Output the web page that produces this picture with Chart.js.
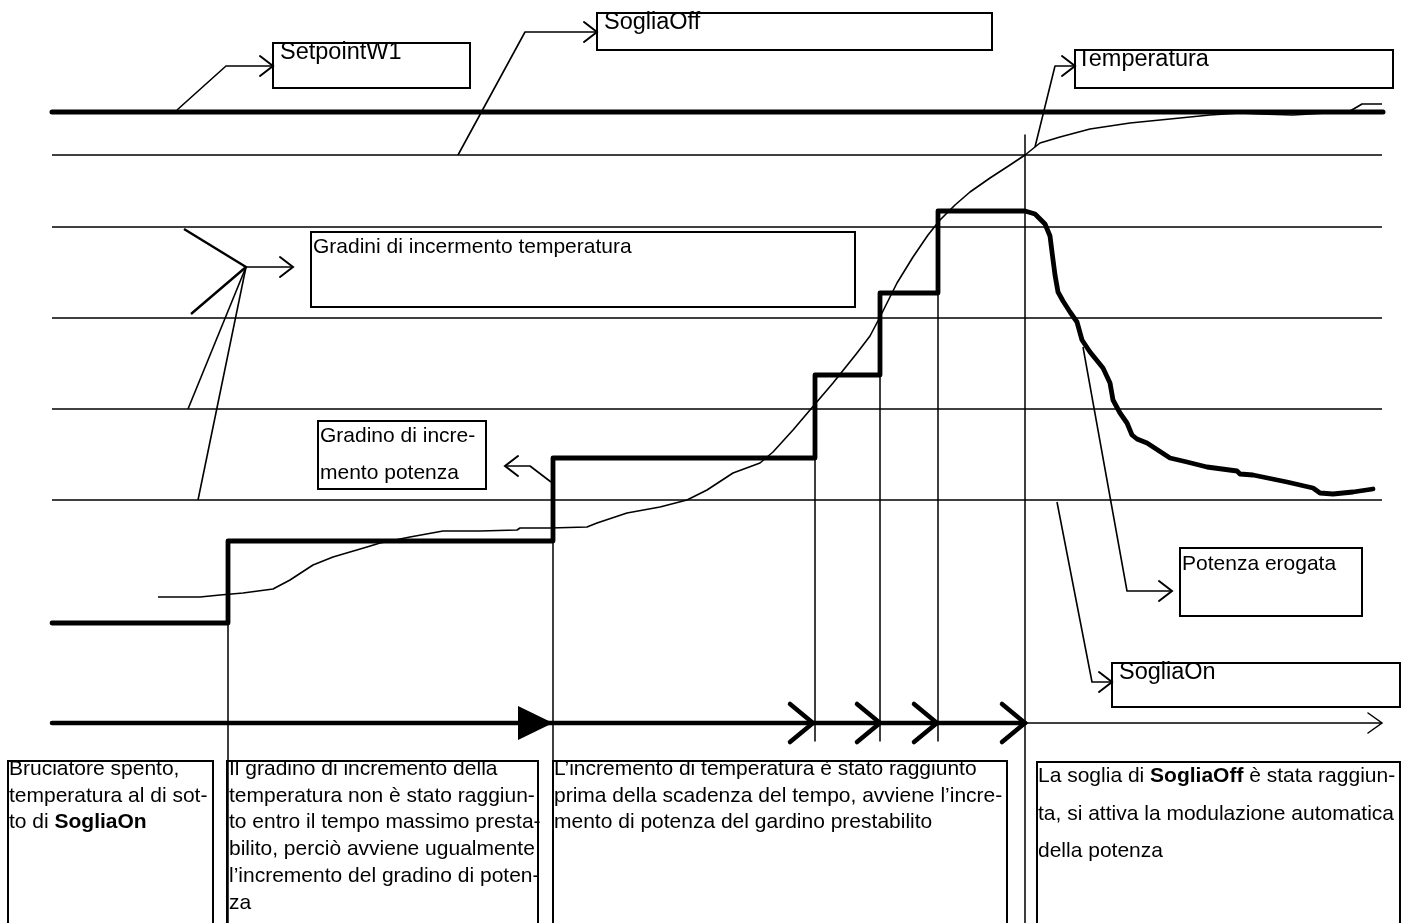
<!DOCTYPE html>
<html>
<head>
<meta charset="utf-8">
<script src="https://cdn.jsdelivr.net/npm/chart.js@4/dist/chart.umd.min.js"></script>
<style>
  body { margin: 0; background: #fff; }
  canvas { display: block; }
</style>
</head>
<body>
<canvas id="diagram" width="1414" height="923"></canvas>
<script>
'use strict';

// ***** DATA *****

let setpointLevel = 112;
let thresholdLevels = [155, 227, 318, 409, 500];
let levelStart = 52;
let levelEnd = 1383;

let powerCurve = [
  [52, 623], [228, 623], [228, 541], [553, 541], [553, 458], [815, 458], [815, 375],
  [880, 375], [880, 293], [938, 293], [938, 211], [1025, 211],
  [1035, 214], [1045, 224], [1050, 236], [1052, 252], [1055, 275], [1058, 292],
  [1063, 301], [1070, 312], [1077, 322], [1082, 340], [1090, 352], [1103, 368],
  [1110, 383], [1113, 400], [1120, 413], [1127, 423], [1132, 435], [1137, 439],
  [1147, 443], [1170, 458], [1187, 462], [1207, 467], [1237, 471], [1240, 474],
  [1253, 475], [1287, 482], [1313, 488], [1320, 493], [1333, 494], [1353, 492], [1373, 489]
];

let temperatureCurve = [
  [158, 597], [200, 597], [220, 595], [243, 593], [273, 589], [290, 580], [313, 565],
  [333, 557], [367, 547], [380, 543], [410, 537], [443, 531], [480, 531], [517, 530],
  [520, 528], [550, 528], [587, 527], [597, 523], [627, 513], [660, 507], [687, 500],
  [707, 490], [733, 473], [760, 463], [773, 452], [793, 430], [810, 410], [833, 383],
  [857, 353], [870, 336], [880, 317], [897, 283], [913, 257], [928, 235], [940, 220],
  [955, 205], [970, 192], [990, 178], [1010, 165], [1025, 155], [1040, 143], [1060, 137],
  [1090, 129], [1130, 123], [1170, 119], [1210, 115], [1240, 113], [1260, 114],
  [1293, 115], [1327, 113], [1350, 111], [1357, 107], [1362, 104], [1382, 104]
];

let stepTimes = [228, 553, 815, 880, 938, 1025];
let stepTops = [623, 458, 458, 374, 293, 135];
let stepBottoms = [923, 923, 741, 741, 741, 923];

let timelineLevel = 723;
let timelineStart = 52;
let timelineSwitch = 1025;
let timelineEnd = 1382;

let leaders = [
  [[177, 110], [226, 66], [273, 66]],
  [[458, 155], [525, 32], [597, 32]],
  [[1035, 147], [1055, 66], [1075, 66]],
  [[551, 482], [530, 466], [505, 466]],
  [[1083, 347], [1127, 591], [1172, 591]],
  [[1057, 502], [1092, 682], [1112, 682]],
  [[246, 267], [293, 267]],
  [[188, 409], [246, 267]],
  [[198, 500], [246, 267]]
];
let leaderBold = [[184, 229], [246, 267], [191, 314]];

// ***** LABELS *****

let font = '"Liberation Sans", Arial, Helvetica, sans-serif';

let labelBoxes = [
  { box: [273, 43, 470, 88], size: 23.5, lines: [[['SetpointW1', 0]]], at: [280, 59], gap: 0 },
  { box: [597, 13, 992, 50], size: 23.5, lines: [[['SogliaOff', 0]]], at: [604, 29], gap: 0 },
  { box: [1075, 50, 1393, 88], size: 23.5, lines: [[['Temperatura', 0]]], at: [1077, 66], gap: 0 },
  { box: [311, 232, 855, 307], size: 21, lines: [[['Gradini di incermento temperatura', 0]]], at: [313, 253], gap: 0 },
  { box: [318, 421, 486, 489], size: 21, lines: [[['Gradino di incre-', 0]], [['mento potenza', 0]]], at: [320, 442], gap: 37 },
  { box: [1180, 548, 1362, 616], size: 21, lines: [[['Potenza erogata', 0]]], at: [1182, 570], gap: 0 },
  { box: [1112, 663, 1400, 707], size: 23.5, lines: [[['SogliaOn', 0]]], at: [1119, 679], gap: 0 },
  { box: [8, 761, 213, 935], size: 21, at: [9, 775], gap: 26.7, lines: [
    [['Bruciatore spento,', 0]],
    [['temperatura al di sot-', 0]],
    [['to di ', 0], ['SogliaOn', 1]]
  ] },
  { box: [227, 761, 538, 935], size: 21, at: [229, 775], gap: 26.7, lines: [
    [['Il gradino di incremento della', 0]],
    [['temperatura non è stato raggiun-', 0]],
    [['to entro il tempo massimo presta-', 0]],
    [['bilito, perciò avviene ugualmente', 0]],
    [['l’incremento del gradino di poten-', 0]],
    [['za', 0]]
  ] },
  { box: [553, 761, 1007, 935], size: 21, at: [554, 775], gap: 26.7, lines: [
    [['L’incremento di temperatura è stato raggiunto', 0]],
    [['prima della scadenza del tempo, avviene l’incre-', 0]],
    [['mento di potenza del gardino prestabilito', 0]]
  ] },
  { box: [1037, 762, 1400, 935], size: 21, at: [1038, 782], gap: 37.5, lines: [
    [['La soglia di ', 0], ['SogliaOff', 1], [' è stata raggiun-', 0]],
    [['ta, si attiva la modulazione automatica', 0]],
    [['della potenza', 0]]
  ] }
];

// arrow heads on the labels: tip x, tip y, direction (1 right / -1 left)
let labelArrows = [
  [273, 66, 1], [597, 32, 1], [1075, 66, 1], [293, 267, 1],
  [505, 466, -1], [1172, 591, 1], [1112, 682, 1]
];
let timelineArrows = [813, 880, 937, 1025];

// ***** HELPERS *****

function toPoints(pairs) {
  return pairs.map(p => ({ x: p[0], y: p[1] }));
}

function lineSet(pairs, width, cap) {
  return {
    data: toPoints(pairs),
    borderColor: '#000',
    borderWidth: width,
    borderCapStyle: cap || 'butt',
    borderJoinStyle: 'round',
    pointRadius: 0,
    tension: 0,
    fill: false
  };
}

let datasets = [];

thresholdLevels.forEach(level => {
  datasets.push(lineSet([[levelStart, level], [levelEnd - 1, level]], 1.5));
});

for (let i = 0; i < stepTimes.length; i++) {
  datasets.push(lineSet([[stepTimes[i], stepTops[i]], [stepTimes[i], stepBottoms[i]]], 1.5));
}

leaders.forEach(l => datasets.push(lineSet(l, 1.6)));
datasets.push(lineSet(leaderBold, 2.4));

datasets.push(lineSet(temperatureCurve, 1.6));
datasets.push(lineSet([[levelStart, setpointLevel], [levelEnd, setpointLevel]], 5, 'round'));
datasets.push(lineSet(powerCurve, 4.8, 'round'));
datasets.push(lineSet([[timelineStart, timelineLevel], [timelineSwitch, timelineLevel]], 4.5, 'round'));
datasets.push(lineSet([[timelineSwitch, timelineLevel], [timelineEnd, timelineLevel]], 1.5));

// ***** PLUGIN *****

let diagramMarks = {
  id: 'diagramMarks',
  afterDatasetsDraw(chart) {
    let ctx = chart.ctx;
    let sx = v => chart.scales.x.getPixelForValue(v);
    let sy = v => chart.scales.y.getPixelForValue(v);

    ctx.save();
    ctx.strokeStyle = '#000';
    ctx.fillStyle = '#000';
    ctx.lineCap = 'round';
    ctx.lineJoin = 'miter';

    function chevron(x, y, dir, back, half, width) {
      ctx.lineWidth = width;
      ctx.beginPath();
      ctx.moveTo(sx(x - dir * back), sy(y - half));
      ctx.lineTo(sx(x), sy(y));
      ctx.lineTo(sx(x - dir * back), sy(y + half));
      ctx.stroke();
    }

    labelArrows.forEach(a => chevron(a[0], a[1], a[2], 13, 10, 2));
    timelineArrows.forEach(x => chevron(x, timelineLevel, 1, 23, 19, 4.5));
    chevron(timelineEnd, timelineLevel, 1, 14, 10, 1.5);

    // filled arrow on the time axis
    ctx.beginPath();
    ctx.moveTo(sx(553), sy(timelineLevel));
    ctx.lineTo(sx(518), sy(timelineLevel - 17));
    ctx.lineTo(sx(518), sy(timelineLevel + 17));
    ctx.closePath();
    ctx.fill();

    // boxes and text
    ctx.lineCap = 'butt';
    labelBoxes.forEach(b => {
      ctx.lineWidth = 2;
      let x1 = sx(b.box[0]), y1 = sy(b.box[1]);
      ctx.strokeRect(x1, y1, sx(b.box[2]) - x1, sy(b.box[3]) - y1);

      ctx.textBaseline = 'alphabetic';
      ctx.textAlign = 'left';
      b.lines.forEach((line, i) => {
        let x = sx(b.at[0]);
        let y = sy(b.at[1] + i * b.gap);
        line.forEach(seg => {
          ctx.font = (seg[1] ? 'bold ' : '') + b.size + 'px ' + font;
          ctx.fillText(seg[0], x, y);
          x += ctx.measureText(seg[0]).width;
        });
      });
    });
    ctx.restore();
  }
};

// ***** CHART *****

new Chart(document.getElementById('diagram'), {
  type: 'line',
  data: { datasets: datasets },
  options: {
    responsive: false,
    animation: false,
    devicePixelRatio: 1,
    layout: { padding: 0 },
    plugins: {
      legend: { display: false },
      tooltip: { enabled: false }
    },
    scales: {
      x: { type: 'linear', min: 0, max: 1414, display: false },
      y: { type: 'linear', min: 0, max: 923, reverse: true, display: false }
    }
  },
  plugins: [diagramMarks]
});
</script>
</body>
</html>
